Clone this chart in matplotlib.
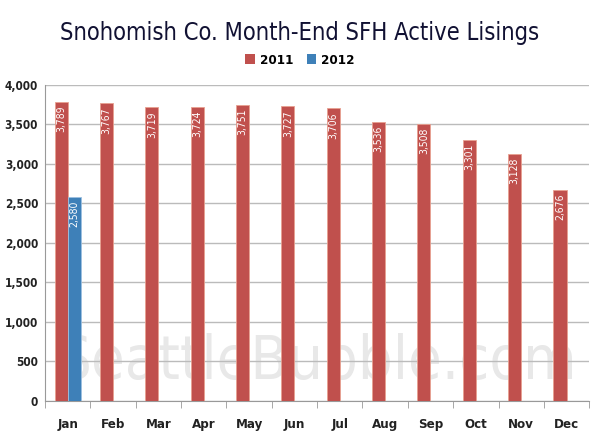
import matplotlib
matplotlib.use("Agg")
import matplotlib.pyplot as plt
import numpy as np
from matplotlib.patches import Patch

months = ["Jan", "Feb", "Mar", "Apr", "May", "Jun", "Jul", "Aug", "Sep", "Oct", "Nov", "Dec"]
values_2011 = [3789, 3767, 3719, 3724, 3751, 3727, 3706, 3536, 3508, 3301, 3128, 2676]
values_2012 = [2580]
series_names = ["2011", "2012"]
yticks = [0, 500, 1000, 1500, 2000, 2500, 3000, 3500, 4000]

red = "#C0504D"
blue = "#3E80B8"
font = ["DejaVu Sans"]
st = "condensed"

fig = plt.figure(figsize=(6, 4.36), dpi=100)
ax = fig.add_axes([0.075, 0.0803, 0.907, 0.725])

x = np.arange(len(months))
w = 0.29
b1 = ax.bar(x[:len(values_2011)] - w / 2, values_2011, width=w, color=red,
            edgecolor="#E8A090", linewidth=0.6, zorder=3)
b2 = ax.bar(x[:len(values_2012)] + w / 2, values_2012, width=w, color=blue,
            edgecolor="#9CC0E0", linewidth=0.6, zorder=3)

for bars, vals in ((b1, values_2011), (b2, values_2012)):
    for r, v in zip(bars, vals):
        ax.text(r.get_x() + r.get_width() / 2, v - 50, f"{v:,}", rotation=90,
                ha="center", va="top", color="white", fontsize=7.5,
                family=font, stretch=st, zorder=4)

ax.set_xlim(-0.5, len(months) - 0.5)
ax.set_ylim(0, 4000)
ax.set_yticks(yticks)
ax.set_yticklabels([f"{t:,}" for t in yticks], family=font, stretch=st, fontsize=8.5,
                   fontweight="bold", color="#222222")
ax.set_xticks(x)
ax.set_xticklabels(months, family=font, stretch=st, fontsize=9.5, fontweight="bold", color="#222222")
ax.set_xticks(np.arange(-0.5, len(months), 1.0), minor=True)
ax.tick_params(axis="x", which="major", length=0, pad=12)
ax.tick_params(axis="x", which="minor", length=5, color="#999999")
ax.tick_params(axis="y", length=0, pad=5)
ax.grid(axis="y", color="#BBBBBB", linewidth=1, zorder=0)
for s in ["top", "right"]:
    ax.spines[s].set_visible(False)
ax.spines["left"].set_color("#999999")
ax.spines["bottom"].set_color("#999999")

ax.text(0.5, 0.03, "SeattleBubble.com", transform=ax.transAxes, ha="center", va="bottom",
        fontsize=44, color="#E8E8E8", family=font, stretch=st, zorder=1)

fig.text(0.5, 0.925, "Snohomish Co. Month-End SFH Active Lisings", ha="center", va="center",
         fontsize=17, color="#111133", family=font, stretch=st)
handles = [Patch(facecolor=red, edgecolor="none"), Patch(facecolor=blue, edgecolor="none")]
fig.legend(handles, series_names, loc="center", bbox_to_anchor=(0.5, 0.862), ncol=2, frameon=False,
           prop={"family": font, "stretch": st, "size": 9.5, "weight": "bold"}, handlelength=0.7,
           handleheight=0.7, handletextpad=0.4, columnspacing=1.0)

fig.savefig("out.png", dpi=100, facecolor="white")
